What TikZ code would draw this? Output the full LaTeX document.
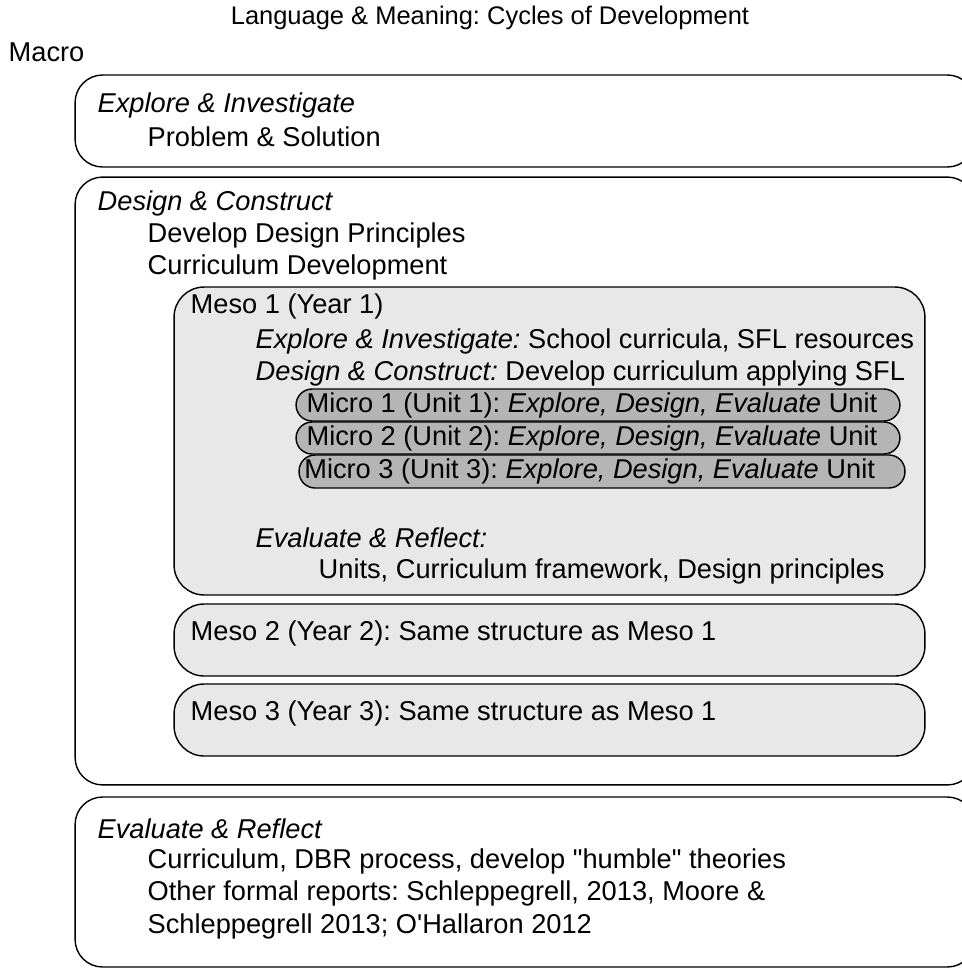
\documentclass[tikz,border=0pt]{standalone}
\usepackage{fontspec}
\setmainfont{Liberation Sans}
\newfontfamily\plainsans{Liberation Sans}
\usetikzlibrary{positioning}

\begin{document}
\frenchspacing
\begin{tikzpicture}[x=0.02cm, y=-0.02cm, line width=0.8pt,
    txt/.style={anchor=west, inner sep=0pt, font=\plainsans\fontsize{15.5}{18}\selectfont},
    macrobox/.style={draw, rectangle, rounded corners=0.55cm, minimum width=18cm, inner sep=0pt},
    mesobox/.style={draw, rectangle, rounded corners=0.6cm, fill=gray!18, minimum width=15.02cm, inner sep=0pt},
    microbox/.style={draw, rectangle, rounded corners=0.32cm, fill=gray!58, minimum height=0.64cm, inner sep=0pt}]
    \clip (0,0) rectangle (962,968);

    % title
    \node[txt, anchor=center, font=\plainsans\fontsize{14.5}{17}\selectfont] (title) at (490,18) {Language \& Meaning: Cycles of Development};
    \node[txt] (macro) at (8,52) {Macro};

    % macro cycle boxes
    \node[macrobox, minimum height=1.84cm] (explore) at (525,121) {};
    \node[macrobox, minimum height=12.16cm] (design) at (525,481) {};
    \node[macrobox, minimum height=3.4cm] (evaluate) at (525,882) {};

    % meso boxes
    \node[mesobox, minimum height=6.16cm] (meso1) at (549.5,441) {};
    \node[mesobox, minimum height=1.44cm] (meso2) at (549.5,640) {};
    \node[mesobox, minimum height=1.44cm] (meso3) at (549.5,720) {};

    % micro boxes
    \node[microbox, minimum width=12.08cm] (micro1) at (598,405) {};
    \node[microbox, minimum width=12.08cm] (micro2) at (598,438) {};
    \node[microbox, minimum width=12.12cm, minimum height=0.66cm] (micro3) at (602,471.5) {};

    % explore & investigate
    \node[txt] (expl) at (97,105) {\textit{Explore \& Investigate}};
    \node[txt] (prob) at (147,137) {Problem \& Solution};

    % design & construct
    \node[txt] (dsgn) at (97,203) {\textit{Design \& Construct}};
    \node[txt] (princ) at (147,235) {Develop Design Principles};
    \node[txt] (curr) at (147,267) {Curriculum Development};

    % meso 1
    \node[txt] (m1head) at (190,306) {Meso 1 (Year 1)};
    \node[txt] (m1expl) at (255,341) {\textit{Explore \& Investigate:} School curricula, SFL resources};
    \node[txt] (m1dsgn) at (255,373) {\textit{Design \& Construct:} Develop curriculum applying SFL};
    \node[txt, right=6pt of micro1.west] (mi1) {Micro 1 (Unit 1): \textit{Explore, Design, Evaluate} Unit};
    \node[txt, right=6pt of micro2.west] (mi2) {Micro 2 (Unit 2): \textit{Explore, Design, Evaluate} Unit};
    \node[txt, right=3pt of micro3.west] (mi3) {Micro 3 (Unit 3): \textit{Explore, Design, Evaluate} Unit};
    \node[txt] (m1eval) at (255,538) {\textit{Evaluate \& Reflect:}};
    \node[txt] (m1units) at (318,571) {Units, Curriculum framework, Design principles};

    % meso 2 and 3
    \node[txt] (m2head) at (190,633) {Meso 2 (Year 2): Same structure as Meso 1};
    \node[txt] (m3head) at (190,713) {Meso 3 (Year 3): Same structure as Meso 1};

    % evaluate & reflect
    \node[txt] (eval) at (97,829) {\textit{Evaluate \& Reflect}};
    \node[txt] (dbr) at (147,861) {Curriculum, DBR process, develop "humble" theories};
    \node[txt] (rep1) at (147,893) {Other formal reports: Schleppegrell, 2013, Moore \&};
    \node[txt] (rep2) at (147,926) {Schleppegrell 2013; O'Hallaron 2012};
\end{tikzpicture}
\end{document}
